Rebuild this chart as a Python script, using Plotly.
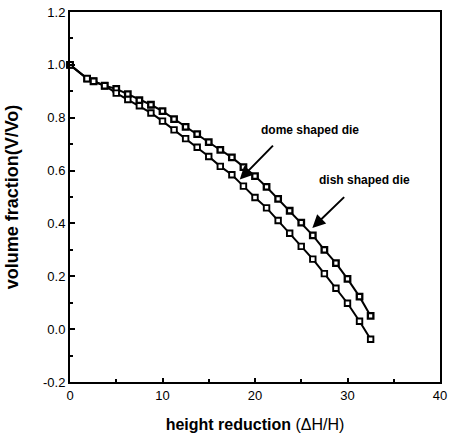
import plotly.graph_objects as go

# Height reduction (%) at each measurement step
height_reduction = [0, 1.85, 2.55, 3.75, 5, 6.25, 7.5, 8.75, 10, 11.25, 12.5, 13.75,
                    15, 16.25, 17.5, 18.75, 20, 21.25, 22.5, 23.75, 25, 26.25, 27.5,
                    28.75, 30, 31.3, 32.5]

# Volume fraction V/Vo for each die shape
vf_dish = [1.0, 0.948, 0.938, 0.921, 0.909, 0.889, 0.866, 0.849, 0.825, 0.795, 0.765,
           0.738, 0.708, 0.678, 0.65, 0.613, 0.579, 0.538, 0.493, 0.448, 0.403, 0.355,
           0.30, 0.25, 0.19, 0.123, 0.05]
vf_dome = [1.0, 0.948, 0.938, 0.921, 0.893, 0.869, 0.845, 0.818, 0.787, 0.754, 0.721,
           0.688, 0.653, 0.616, 0.584, 0.541, 0.498, 0.459, 0.411, 0.363, 0.313, 0.265,
           0.21, 0.155, 0.098, 0.030, -0.038]

# Label text and arrow (head, tail) positions in data units
labels = ["dome shaped die", "dish shaped die"]
label_pos = [(25.9, 0.755), (31.8, 0.565)]
arrow_head = [(18.35, 0.566), (26.2, 0.383)]
arrow_tail = [(22.1, 0.70), (29.8, 0.505)]

FONT = "Liberation Sans, Arial, sans-serif"

fig = go.Figure()
fig.add_trace(go.Scatter(
    x=height_reduction, y=vf_dish, mode="lines+markers", name="dish shaped die",
    line=dict(color="black", width=2),
    marker=dict(symbol="square", size=5.5, color="white", line=dict(color="black", width=2.3)),
    cliponaxis=False,
))
fig.add_trace(go.Scatter(
    x=height_reduction, y=vf_dome, mode="lines+markers", name="dome shaped die",
    line=dict(color="black", width=2),
    marker=dict(symbol="square", size=5.5, color="white", line=dict(color="black", width=1.9)),
    cliponaxis=False,
))

annotations = []
for text, (lx, ly) in zip(labels, label_pos):
    annotations.append(dict(x=lx, y=ly, xref="x", yref="y", text=f"<b>{text}</b>",
                            showarrow=False, font=dict(family=FONT, size=12, color="black")))
for (hx, hy), (tx, ty) in zip(arrow_head, arrow_tail):
    annotations.append(dict(x=hx, y=hy, xref="x", yref="y", ax=tx, ay=ty,
                            axref="x", ayref="y", text="", showarrow=True,
                            arrowhead=2, arrowsize=1.3, arrowwidth=2, arrowcolor="black",
                            standoff=0))

fig.update_layout(
    width=452, height=436,
    margin=dict(l=70, r=5, t=10, b=53),
    paper_bgcolor="white", plot_bgcolor="white",
    showlegend=False,
    font=dict(family=FONT, size=13, color="black"),
    annotations=annotations,
)
fig.update_xaxes(
    range=[0, 40], tickvals=[0, 10, 20, 30, 40],
    ticks="inside", ticklen=4, tickwidth=1.5, tickcolor="black",
    minor=dict(tickvals=[5, 15, 25, 35], ticks="inside", ticklen=3, tickcolor="black"),
    showline=True, linecolor="black", linewidth=2, mirror=True,
    showgrid=False, zeroline=False,
    tickfont=dict(family=FONT, size=13),
    ticklabeloverflow="allow",
    title=dict(text="<b>height reduction</b> <span style='font-size:16px'>(ΔH/H)</span>",
               font=dict(family=FONT, size=16), standoff=17),
)
fig.update_yaxes(
    range=[-0.2, 1.2], tickvals=[-0.2, 0, 0.2, 0.4, 0.6, 0.8, 1.0, 1.2],
    ticktext=["-0.2", "0.0", "0.2", "0.4", "0.6", "0.8", "1.0", "1.2"],
    ticks="inside", ticklen=5, tickwidth=1.5, tickcolor="black",
    minor=dict(dtick=0.1, ticks="inside", ticklen=3, tickcolor="black"),
    showline=True, linecolor="black", linewidth=2, mirror=True,
    showgrid=False, zeroline=False,
    tickfont=dict(family=FONT, size=13),
    title=dict(text="<b>volume fraction(V/Vo)</b>", font=dict(family=FONT, size=18), standoff=20),
)

fig.write_html("out.html")
